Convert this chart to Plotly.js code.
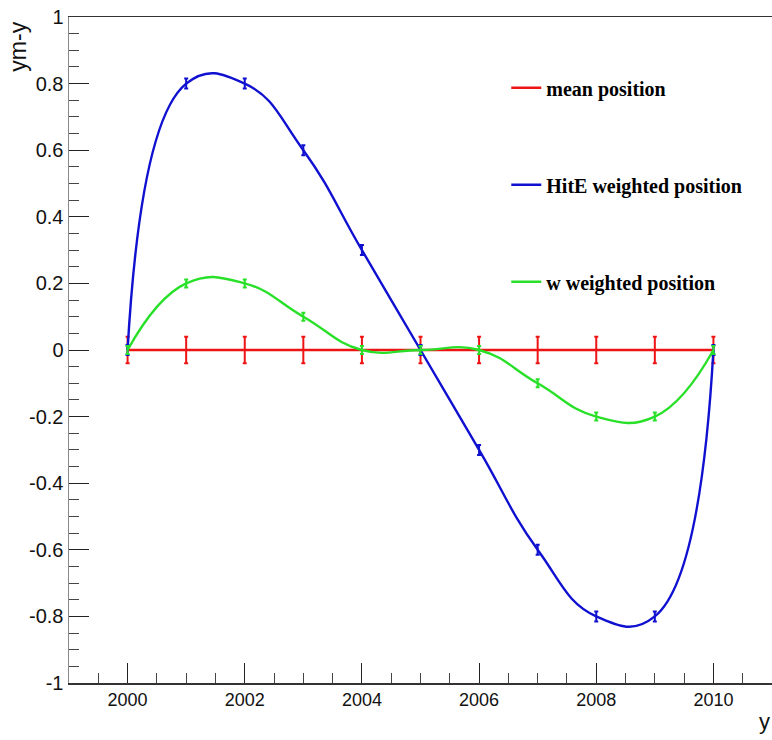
<!DOCTYPE html>
<html>
<head>
<meta charset="utf-8">
<script src="https://cdn.plot.ly/plotly-3.0.1.min.js"></script>
<style>
  html, body { margin: 0; padding: 0; background: #fff; }
  #plot { width: 772px; height: 740px; }
</style>
</head>
<body>
<div id="plot"></div>
<script>
// Offsets of three position estimators versus y
const years = [2000, 2001, 2002, 2003, 2004, 2005, 2006, 2007, 2008, 2009, 2010];

const meanPos = [0, 0, 0, 0, 0, 0, 0, 0, 0, 0, 0];
const meanErr = [0.04, 0.04, 0.04, 0.04, 0.04, 0.04, 0.04, 0.04, 0.04, 0.04, 0.04];

const hitEPos = [0, 0.8, 0.8, 0.6, 0.3, 0, -0.3, -0.6, -0.8, -0.8, 0];
const hitEErr = [0.015, 0.015, 0.015, 0.015, 0.015, 0.015, 0.015, 0.015, 0.015, 0.015, 0.015];

const wPos = [0, 0.2, 0.2, 0.1, 0, 0, 0, -0.1, -0.2, -0.2, 0];
const wErr = [0.012, 0.012, 0.012, 0.012, 0.012, 0.012, 0.012, 0.012, 0.012, 0.012, 0.012];

const seriesNames = ['mean position', 'HitE weighted position', 'w weighted position'];

const yTickVals = [-1, -0.8, -0.6, -0.4, -0.2, 0, 0.2, 0.4, 0.6, 0.8, 1];
const yTickText = ['-1', '-0.8', '-0.6', '-0.4', '-0.2', '0', '0.2', '0.4', '0.6', '0.8', '1'];

const sans = '"Liberation Sans", Arial, sans-serif';
const serif = '"Liberation Serif", "Times New Roman", serif';

function series(name, ys, errs, color, shape, group, capw) {
  return {
    type: 'scatter',
    mode: 'lines',
    x: years,
    y: ys,
    name: name,
    legendgroup: group,
    line: { color: color, width: 2.4, shape: shape, smoothing: 1.3 },
    error_y: { type: 'data', array: errs, visible: true, color: color, thickness: 2, width: capw }
  };
}

const data = [
  series(seriesNames[0], meanPos, meanErr, '#ee1414', 'linear', 'g1', 2),
  series(seriesNames[1], hitEPos, hitEErr, '#1010d0', 'spline', 'g2', 2),
  series(seriesNames[2], wPos, wErr, '#28e028', 'spline', 'g3', 2)
];

const layout = {
  width: 772,
  height: 740,
  margin: { l: 69, r: 0, t: 17, b: 57 },
  paper_bgcolor: '#ffffff',
  plot_bgcolor: '#ffffff',
  font: { family: sans, size: 19, color: '#111' },
  showlegend: true,
  legend: {
    x: 0.622, y: 0.923, xanchor: 'left', yanchor: 'top',
    bgcolor: 'rgba(255,255,255,0)',
    borderwidth: 0,
    traceorder: 'grouped',
    tracegroupgap: 68,
    font: { family: serif, size: 20, weight: 'bold', color: '#000' }
  },
  xaxis: {
    range: [1999, 2011],
    tick0: 2000, dtick: 2,
    ticks: 'inside', ticklen: 20, tickwidth: 1, tickcolor: '#222',
    minor: { dtick: 0.5, ticks: 'inside', ticklen: 10, tickwidth: 1, tickcolor: '#444' },
    showgrid: false, zeroline: false,
    showline: true, linecolor: '#333', linewidth: 1.5, mirror: true,
    tickfont: { family: sans, size: 18, color: '#111' }
  },
  yaxis: {
    range: [-1, 1],
    tickmode: 'array', tickvals: yTickVals, ticktext: yTickText,
    ticks: 'inside', ticklen: 20, tickwidth: 1, tickcolor: '#222',
    minor: { dtick: 0.05, ticks: 'inside', ticklen: 10, tickwidth: 1, tickcolor: '#444' },
    showgrid: false, zeroline: false,
    showline: true, linecolor: '#888', linewidth: 1.5, mirror: false,
    tickfont: { family: sans, size: 20, color: '#111' }
  },
  annotations: [
    {
      text: 'ym-y', xref: 'paper', yref: 'paper',
      x: -0.073, y: 0.955, xanchor: 'center', yanchor: 'middle',
      textangle: -90, showarrow: false,
      font: { family: sans, size: 23, color: '#111' }
    },
    {
      text: 'y', xref: 'paper', yref: 'paper',
      x: 0.99, y: -0.058, xanchor: 'center', yanchor: 'middle',
      showarrow: false,
      font: { family: sans, size: 22, color: '#111' }
    }
  ]
};

Plotly.newPlot('plot', data, layout, { staticPlot: true, displayModeBar: false });
</script>
</body>
</html>
